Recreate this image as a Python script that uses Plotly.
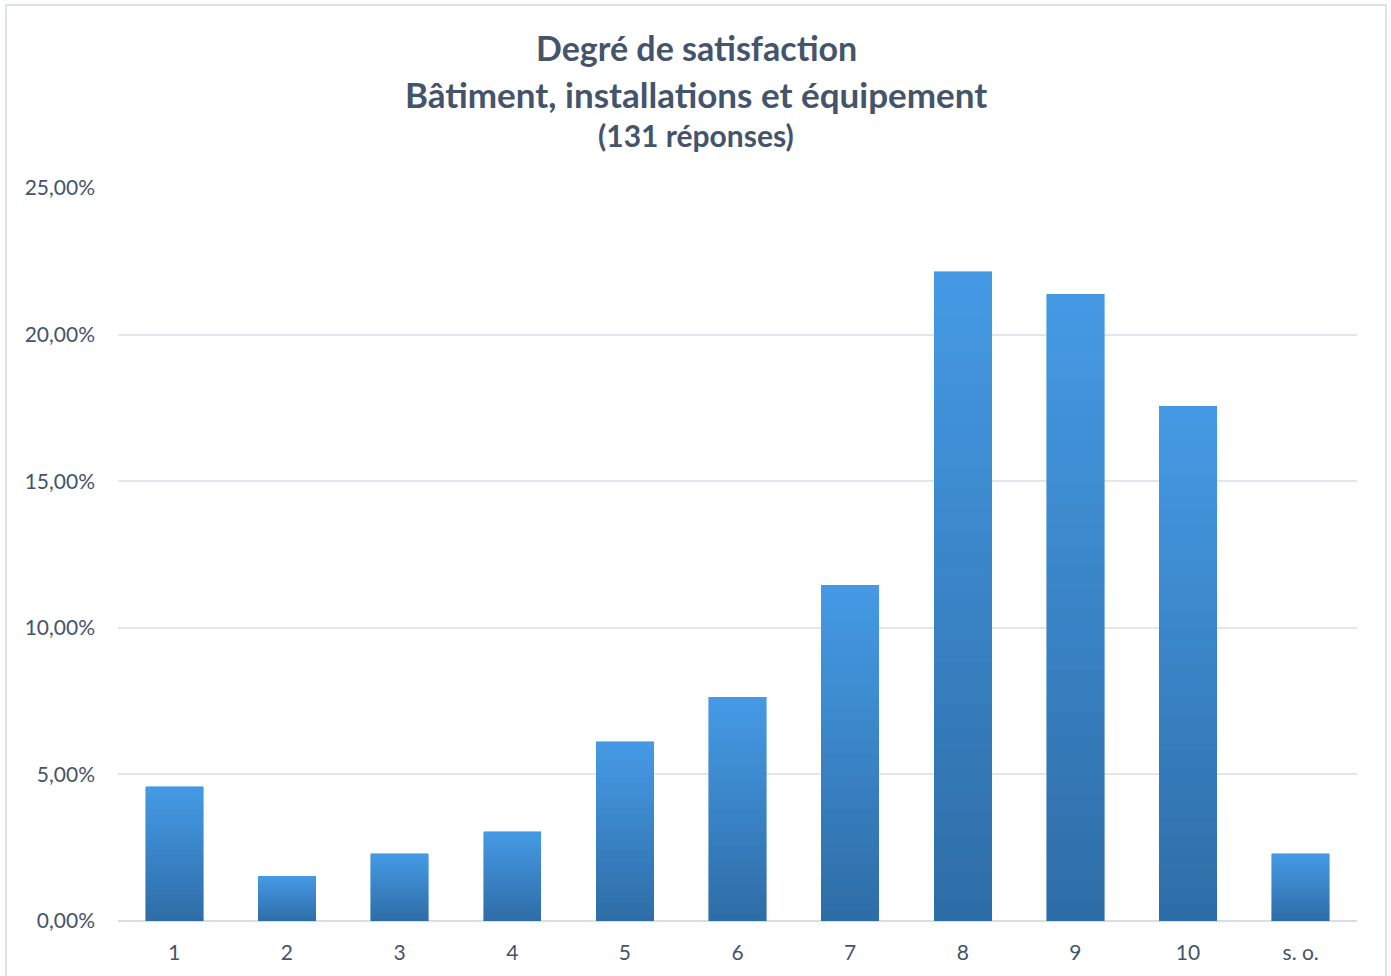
import plotly.graph_objects as go

categories = ["1", "2", "3", "4", "5", "6", "7", "8", "9", "10", "s. o."]
values = [4.58, 1.53, 2.29, 3.05, 6.11, 7.63, 11.45, 22.14, 21.37, 17.56, 2.29]
tick_vals = [0, 5, 10, 15, 20, 25]
tick_text = ["0,00%", "5,00%", "10,00%", "15,00%", "20,00%", "25,00%"]

W, H = 1391, 976
ML, MT = 118, 188
MR = W - 1357
MB = H - 921
PW, PH = W - ML - MR, H - MT - MB

# vertical gradient per bar, approximated with stacked slices
N = 30
top_c = (69, 153, 228)
bot_c = (46, 110, 168)
fig = go.Figure()
for i in range(N):
    t = i / (N - 1)
    c = tuple(round(bot_c[k] + (top_c[k] - bot_c[k]) * t) for k in range(3))
    fig.add_trace(go.Bar(
        x=categories, y=[v / N for v in values],
        marker=dict(color="rgb(%d,%d,%d)" % c, line=dict(width=0.6, color="rgb(%d,%d,%d)" % c)),
        showlegend=False, hoverinfo="skip",
    ))

def px_x(p):
    return (p - ML) / PW

def px_y(p):
    return (H - MB - p) / PH

title_color = "#44546a"
font_family = "Lato, 'Open Sans', sans-serif"
ann = [
    ("<b>Degré de satisfaction</b>", 48, 34),
    ("<b>Bâtiment, installations et équipement</b>", 94, 35),
    ("<b>(131 réponses)</b>", 135, 30),
]
annotations = [
    dict(text=t, x=px_x(696), y=px_y(y), xref="paper", yref="paper",
         xanchor="center", yanchor="middle", showarrow=False,
         font=dict(size=s, color=title_color, family=font_family))
    for t, y, s in ann
]

fig.update_layout(
    width=W, height=H,
    margin=dict(l=ML, r=MR, t=MT, b=MB),
    barmode="stack", bargap=0.49,
    paper_bgcolor="white", plot_bgcolor="white",
    font=dict(family=font_family, color=title_color, size=21),
    annotations=annotations,
    shapes=[dict(type="rect", xref="paper", yref="paper",
                 x0=px_x(6), x1=px_x(1386), y0=px_y(990), y1=px_y(5),
                 line=dict(color="#dde2ea", width=2), fillcolor="rgba(0,0,0,0)", layer="below")],
    xaxis=dict(showgrid=False, showline=False, ticks="", ticklabelstandoff=17,
               tickfont=dict(size=21, color=title_color)),
    yaxis=dict(range=[0, 25], tickvals=tick_vals, ticktext=tick_text, showgrid=True,
               gridcolor="#e1e5ec", gridwidth=2, zeroline=True, zerolinecolor="#d9dde4", zerolinewidth=2,
               showline=False, ticks="", ticklabelstandoff=22,
               tickfont=dict(size=21, color=title_color)),
)

fig.write_html("out.html", config={"displayModeBar": False},
               post_script="document.body.style.margin='0';")
